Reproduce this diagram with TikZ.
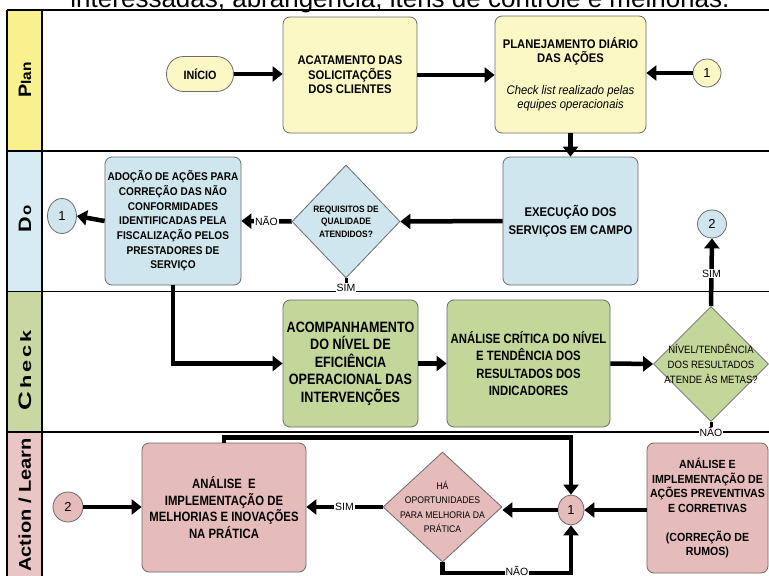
\documentclass[tikz,border=0pt]{standalone}
\usepackage{fontspec}
\setmainfont{Liberation Sans}
\newfontfamily\narA[FakeStretch=0.84]{Liberation Sans}
\newfontfamily\narB[FakeStretch=0.9]{Liberation Sans}
\usepackage{graphicx}
\usetikzlibrary{arrows.meta,shapes.geometric,calc}
\definecolor{hdrY}{HTML}{F9F08E}
\definecolor{fillY}{HTML}{FCF8C6}
\definecolor{hdrB}{HTML}{D6EBF3}
\definecolor{fillB}{HTML}{CFE6EE}
\definecolor{hdrG}{HTML}{C9D8A2}
\definecolor{fillG}{HTML}{C4D79B}
\definecolor{hdrR}{HTML}{E9C6C5}
\definecolor{fillR}{HTML}{E6BCBB}
\definecolor{bordc}{HTML}{6B6B6B}
\newcommand\fsz[2]{\fontsize{#1}{#2}\selectfont}
\begin{document}
\begin{tikzpicture}[x=1pt,y=-1pt,
  box/.style={draw=bordc, line width=0.8pt, rounded corners=7pt, align=center, inner sep=0pt},
  circ/.style={draw=bordc, ellipse, line width=0.8pt, inner sep=0pt, font=\fsz{13}{15}},
  dia/.style={draw=bordc, diamond, line width=0.8pt, inner sep=0pt},
  dtext/.style={align=center, inner sep=0pt},
  arr/.style={line width=4.5pt, -{Triangle[length=10pt,width=15pt]}},
  stub/.style={line width=3pt},
  lbl/.style={fill=white, inner sep=0.8pt, font=\fsz{10.5}{12}},
  lane/.style={line width=1.1pt},
  hdr/.style={rotate=90, inner sep=0pt, font=\bfseries}]
\useasboundingbox (0,0) rectangle (769,576);
\fill[white] (0,0) rectangle (769,576);
% title (cut off at the top, as in the source)
\node[anchor=base, inner sep=0pt, font=\fsz{26}{26}] (title) at (400,7.5) {interessadas, abrangência, itens de controle e melhorias.};
% lane header fills
\fill[hdrY] (7,10) rectangle (42,151);
\fill[hdrB] (7,151) rectangle (42,291.5);
\fill[hdrG] (7,291.5) rectangle (42,432);
\fill[hdrR] (7,432) rectangle (42,576);
% lane lines
\draw[lane] (7,10) -- (769,10);
\draw[lane] (7,151) -- (769,151);
\draw[lane] (7,291.5) -- (769,291.5);
\draw[lane] (7,432) -- (769,432);
\draw[lane] (7,10) -- (7,576);
\draw[lane] (42,10) -- (42,576);
% lane headers
\node[hdr] (hplan) at (25,80) {\scalebox{1.1}[1]{\fsz{18}{18}P\fsz{14}{14}lan}};
\node[hdr] (hdo) at (25,219) {\scalebox{1.2}[1]{\fsz{18}{18}D\kern1pt\fsz{14}{14}o}};
\node[hdr] (hcheck) at (25,370) {\scalebox{1.45}[1]{\fsz{18}{18}C\kern2pt\fsz{15}{15}h\kern2pt e\kern2pt c\kern2pt k}};
\node[hdr] (hact) at (25,505) {\scalebox{1.18}[1]{\fsz{17}{17}Action / Learn}};
% Plan lane
\node[box, fill=fillY, rounded corners=17pt, minimum width=67pt, minimum height=35pt, font=\narB\fsz{12}{13}\bfseries] (inicio) at (200,74) {INÍCIO};
\node[box, fill=fillY, minimum width=134pt, minimum height=116pt, font=\narB\fsz{12.5}{14.5}\bfseries] (acat) at (350,75) {ACATAMENTO DAS\\SOLICITAÇÕES\\DOS CLIENTES};
\node[box, fill=fillY, minimum width=151pt, minimum height=117pt, font=\narB\fsz{12.5}{14.5}\bfseries] (plan) at (570.5,74.5) {PLANEJAMENTO DIÁRIO\\DAS AÇÕES\\[17pt]{\mdseries\itshape Check list realizado pelas}\\{\mdseries\itshape equipes operacionais}};
\node[circ, fill=fillY, minimum width=28pt, minimum height=28pt] (c1p) at (707,73) {1};
% Do lane
\node[circ, fill=fillB, minimum width=29pt, minimum height=35pt] (c1d) at (62,216) {1};
\node[box, fill=fillB, minimum width=136pt, minimum height=128pt, font=\narB\fsz{11.2}{14.7}\bfseries] (adoc) at (173,221) {ADOÇÃO DE AÇÕES PARA\\CORREÇÃO DAS NÃO\\CONFORMIDADES\\IDENTIFICADAS PELA\\FISCALIZAÇÃO PELOS\\PRESTADORES DE\\SERVIÇO};
\node[dia, fill=fillB, minimum width=108pt, minimum height=113pt] (req) at (346,221.5) {};
\node[dtext, font=\narB\fsz{9.3}{12.5}\bfseries] (reqt) at (req.center) {REQUISITOS DE\\QUALIDADE\\ATENDIDOS?};
\node[box, fill=fillB, minimum width=135pt, minimum height=128pt, font=\narB\fsz{12.6}{18}\bfseries] (exec) at (570.5,221) {EXECUÇÃO DOS\\SERVIÇOS EM CAMPO};
\node[circ, fill=fillB, minimum width=29pt, minimum height=28pt] (c2d) at (712,224) {2};
% Check lane
\node[box, fill=fillG, minimum width=135pt, minimum height=127pt, font=\narA\fsz{15}{17.5}\bfseries] (acomp) at (350.5,363.5) {ACOMPANHAMENTO\\DO NÍVEL DE\\EFICIÊNCIA\\OPERACIONAL DAS\\INTERVENÇÕES};
\node[box, fill=fillG, minimum width=163pt, minimum height=127pt, font=\narA\fsz{13.5}{17.5}\bfseries] (anal) at (528.5,363.5) {ANÁLISE CRÍTICA DO NÍVEL\\E TENDÊNCIA DOS\\RESULTADOS DOS\\INDICADORES};
\node[dia, fill=fillG, minimum width=115pt, minimum height=115pt] (niv) at (711,364) {};
\node[dtext, font=\narB\fsz{10.6}{15}] (nivt) at (niv.center) {NÍVEL/TENDÊNCIA\\DOS RESULTADOS\\ATENDE ÀS METAS?};
% Action lane
\node[circ, fill=fillR, minimum width=30pt, minimum height=30pt] (c2a) at (68,507) {2};
\node[box, fill=fillR, minimum width=164pt, minimum height=129pt, font=\narA\fsz{13.5}{16.5}\bfseries] (melh) at (224,507.5) {ANÁLISE~ E\\IMPLEMENTAÇÃO DE\\MELHORIAS E INOVAÇÕES\\NA PRÁTICA};
\node[dia, fill=fillR, minimum width=119pt, minimum height=110pt] (ha) at (442.5,507) {};
\node[dtext, font=\narB\fsz{9.6}{14.5}] (hat) at (ha.center) {HÁ\\OPORTUNIDADES\\PARA MELHORIA DA\\PRÁTICA};
\node[circ, fill=fillR, minimum width=26pt, minimum height=30pt] (c1a) at (571,510) {1};
\node[box, fill=fillR, minimum width=121pt, minimum height=130pt, font=\narB\fsz{11.8}{14.5}\bfseries] (prev) at (707.5,508) {ANÁLISE E\\IMPLEMENTAÇÃO DE\\AÇÕES PREVENTIVAS\\E CORRETIVAS\\[14.5pt](CORREÇÃO DE\\RUMOS)};
% connectors: Plan
\draw[arr] (inicio.east) -- (acat.west |- inicio.east);
\draw[arr] (acat.east) -- (plan.west |- acat.east);
\draw[arr] (c1p.west) -- (plan.east |- c1p.west);
\draw[arr] (plan.south) -- (exec.north);
% Do
\draw[arr] (exec.west) -- (req.east);
\draw[arr] (req.west) -- (adoc.east) node[lbl, midway] {NÃO};
\draw[arr] (adoc.west) -- (c1d.east);
\coordinate (simA) at (346,283);
\draw[stub] (req.south) -- (simA);
\node[lbl] (simAl) at (346,288) {SIM};
% Check
\draw[arr] (adoc.south) |- (acomp.west);
\draw[arr] (acomp.east) -- (anal.west);
\draw[arr] (anal.west -| anal.east) -- (niv.west);
\draw[arr] (niv.north) -- (c2d.south) node[lbl, pos=0.48] {SIM};
\coordinate (naoB) at (711,427);
\draw[stub] (niv.south) -- (naoB);
\node[lbl] (naoBl) at (711,432) {NÃO};
% Action
\draw[arr] (c2a.east) -- (melh.west |- c2a.east);
\draw[arr] (ha.west) -- (melh.east |- ha.west) node[lbl, midway] {SIM};
\draw[arr] (c1a.west) -- (ha.east |- c1a.west);
\draw[arr] (prev.west |- c1a.east) -- (c1a.east);
\draw[arr] (melh.north) -- ++(0,-5) -| (c1a.north);
\coordinate (hab) at (442.5,573);
\draw[arr] (ha.south) -- (hab) -| (c1a.south);
\node[lbl] (naoC) at (517,571) {NÃO};
\end{tikzpicture}
\end{document}
